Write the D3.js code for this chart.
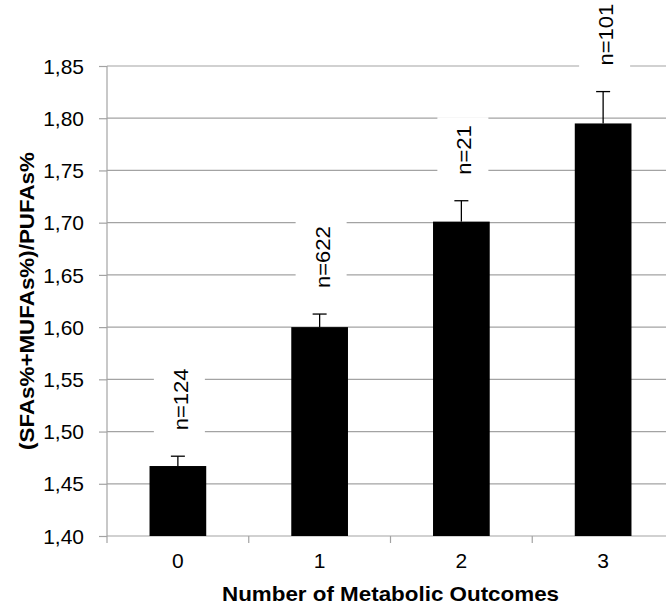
<!DOCTYPE html>
<html>
<head>
<meta charset="utf-8">
<script src="https://cdn.jsdelivr.net/npm/d3@7"></script>
<style>
  html, body { margin: 0; padding: 0; background: #fff; }
  svg { display: block; }
  text { font-family: "Liberation Sans", Arial, sans-serif; fill: #000; }
</style>
</head>
<body>
<svg id="chart" width="666" height="607"></svg>
<script>
const categories = ["0", "1", "2", "3"];
const means = [1.467, 1.600, 1.701, 1.795];
const errors = [0.0094, 0.0125, 0.020, 0.0305];
const nLabels = ["n=124", "n=622", "n=21", "n=101"];
const yTicks = [1.40, 1.45, 1.50, 1.55, 1.60, 1.65, 1.70, 1.75, 1.80, 1.85];
const xTitle = "Number of Metabolic Outcomes";
const yTitle = "(SFAs%+MUFAs%)/PUFAs%";

(function () {
const svg = d3.select("#chart");
const pLeft = 107, pRight = 674, pTop = 66, pBottom = 536;
const grid = "#a3a3a3";

const y = d3.scaleLinear().domain([1.40, 1.85]).range([pBottom, pTop]);
const x = d3.scaleBand().domain(categories).range([pLeft, pRight])
  .paddingInner(0.6).paddingOuter(0.3);
const step = x.step();
const fmt = v => d3.format(".2f")(v).replace(".", ",");

// gridlines
svg.append("g").selectAll("line").data(yTicks.slice(1)).join("line")
  .attr("x1", pLeft).attr("x2", pRight)
  .attr("y1", d => y(d)).attr("y2", d => y(d))
  .attr("stroke", grid).attr("stroke-width", 1.2);

// y axis
const yAxis = svg.append("g").attr("transform", `translate(${pLeft},0)`)
  .call(d3.axisLeft(y).tickValues(yTicks).tickFormat(fmt).tickSize(8).tickPadding(15));
yAxis.select(".domain").attr("stroke", grid).attr("stroke-width", 1.2).attr("d", `M0,${pBottom}V${pTop}`);
yAxis.selectAll(".tick line").attr("stroke", grid).attr("stroke-width", 1.2);
yAxis.selectAll(".tick text").attr("font-size", 20).attr("fill", "#000")
  .attr("font-family", "Liberation Sans, Arial, sans-serif")
  .attr("dy", "0.36em")
  .attr("transform", function () { const tx = +d3.select(this).attr("x"); return `translate(${tx},0) scale(1.05,1) translate(${-tx},0)`; });

// x axis
const xg = svg.append("g");
xg.append("line").attr("x1", pLeft).attr("x2", pRight).attr("y1", pBottom).attr("y2", pBottom)
  .attr("stroke", grid).attr("stroke-width", 1.2);
const boundaries = categories.map(c => x(c) + x.bandwidth() / 2 - step / 2)
  .concat([x(categories[categories.length - 1]) + x.bandwidth() / 2 + step / 2]);
xg.selectAll("line.tk").data(boundaries).join("line").attr("class", "tk")
  .attr("x1", d => d).attr("x2", d => d).attr("y1", pBottom).attr("y2", pBottom + 7)
  .attr("stroke", grid).attr("stroke-width", 1.2);
xg.selectAll("text").data(categories).join("text")
  .attr("transform", d => `translate(${x(d) + x.bandwidth() / 2},568) scale(1.05,1)`)
  .attr("text-anchor", "middle").attr("font-size", 20).text(d => d);

// bars
const data = categories.map((c, i) => ({ c, m: means[i], e: errors[i], n: nLabels[i] }));
svg.append("g").selectAll("rect").data(data).join("rect")
  .attr("x", d => x(d.c)).attr("width", x.bandwidth())
  .attr("y", d => y(d.m)).attr("height", d => pBottom - y(d.m))
  .attr("fill", "#000");

// error bars
const eg = svg.append("g").attr("stroke", "#000").attr("stroke-width", 1.3);
data.forEach(d => {
  const cx = x(d.c) + x.bandwidth() / 2;
  eg.append("line").attr("x1", cx).attr("x2", cx).attr("y1", y(d.m)).attr("y2", y(d.m + d.e));
  eg.append("line").attr("x1", cx - 7).attr("x2", cx + 7).attr("y1", y(d.m + d.e)).attr("y2", y(d.m + d.e));
});

// n labels with white background
const lg = svg.append("g");
data.forEach(d => {
  const cx = x(d.c) + x.bandwidth() / 2;
  const by = y(d.m + d.e) - 26;
  const g = lg.append("g");
  const rect = g.append("rect").attr("fill", "#fff");
  const t = g.append("text")
    .attr("transform", `translate(${cx + 10},${by}) rotate(-90) scale(1.1,1)`)
    .attr("font-size", 20).attr("text-anchor", "start").text(d.n);
  const len = t.node().getComputedTextLength() * 1.1;
  rect.attr("x", cx - 24).attr("width", 51)
    .attr("y", by - len - 8).attr("height", len + 14);
});

// axis titles
svg.append("text")
  .attr("transform", `translate(${(pLeft + pRight) / 2},601) scale(1.12,1)`)
  .attr("text-anchor", "middle").attr("font-size", 20).attr("font-weight", "bold").text(xTitle);
svg.append("text")
  .attr("transform", `translate(34,${(pTop + pBottom) / 2}) rotate(-90) scale(1.12,1)`)
  .attr("text-anchor", "middle").attr("font-size", 20).attr("font-weight", "bold").text(yTitle);
})();
</script>
</body>
</html>
